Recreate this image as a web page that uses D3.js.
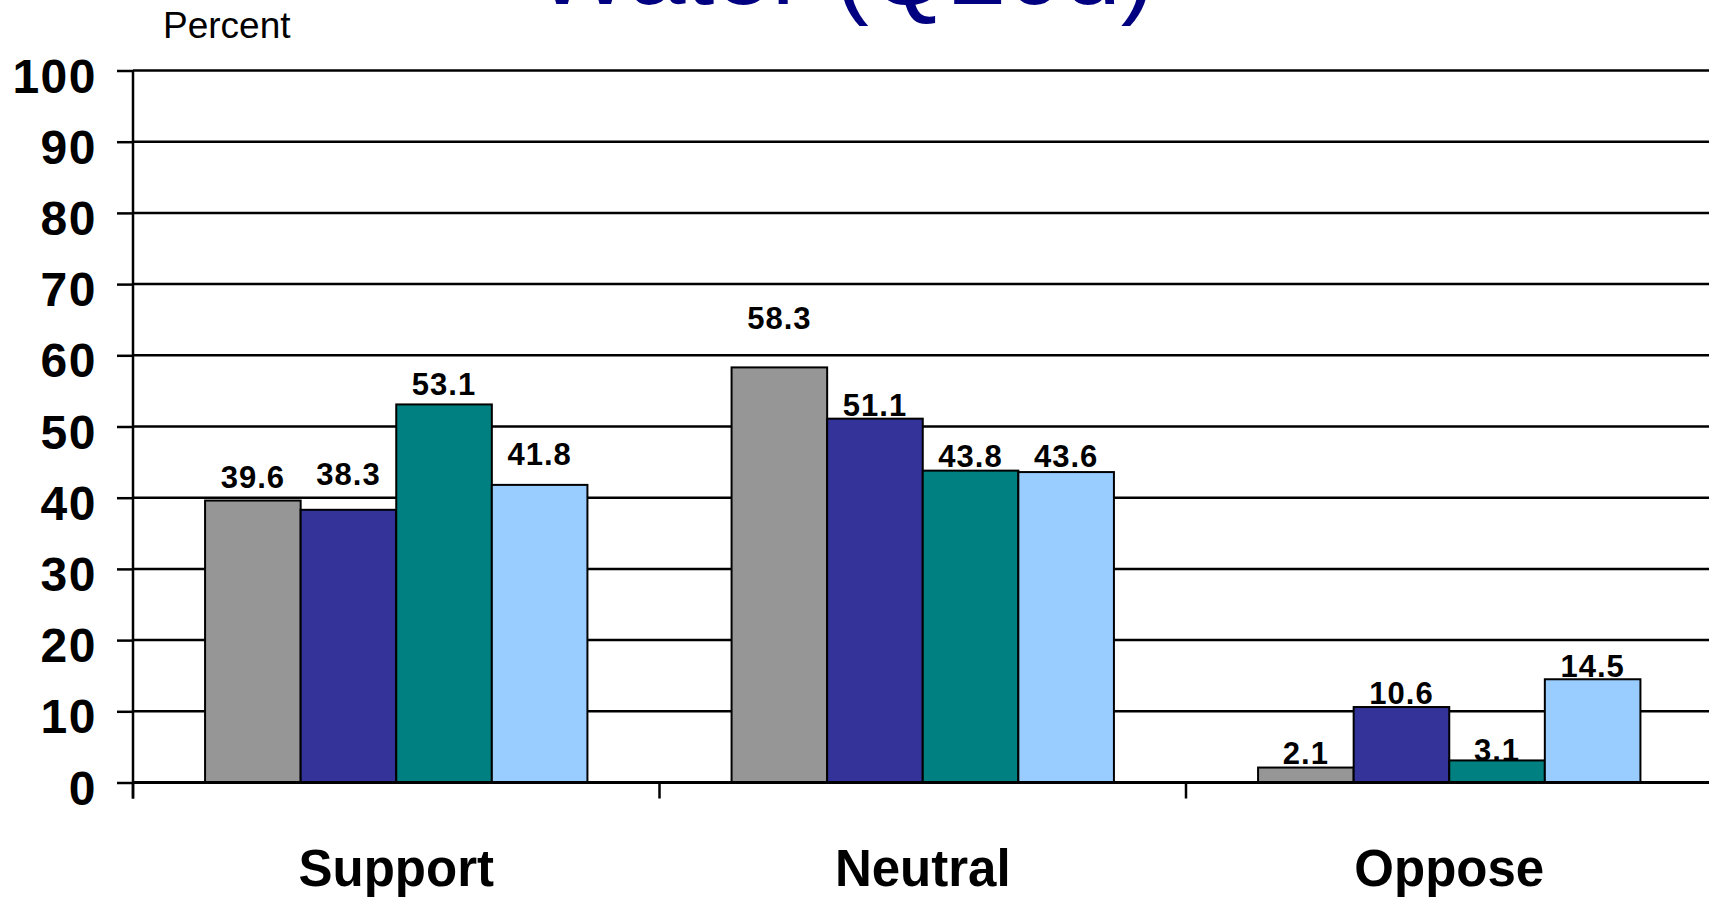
<!DOCTYPE html>
<html>
<head>
<meta charset="utf-8">
<script src="https://cdn.jsdelivr.net/npm/d3@7/dist/d3.min.js"></script>
<style>
  html, body { margin: 0; padding: 0; background: #fff; }
  svg { display: block; font-family: "Liberation Sans", Arial, sans-serif; }
</style>
</head>
<body>
<svg id="chart" width="1709" height="898"></svg>
<script>
// ---- data ----
const categories = ["Support", "Neutral", "Oppose"];
const seriesNames = ["Group 1", "Group 2", "Group 3", "Group 4"];
const group1 = [39.6, 58.3, 2.1];
const group2 = [38.3, 51.1, 10.6];
const group3 = [53.1, 43.8, 3.1];
const group4 = [41.8, 43.6, 14.5];
const yTicks = [0, 10, 20, 30, 40, 50, 60, 70, 80, 90, 100];
const titleText = "Water (Q20d)";
const yAxisTitle = "Percent";

// ---- layout / style (not data) ----
const colors = ["#969696", "#333399", "#008080", "#99CCFF"];
// label lift above bar top, in value units, per series per category (as placed in the original)
const labelLift = [
  [1.8, 5.4, 0.5],
  [3.5, 0.4, 0.4],
  [1.3, 0.5, -0.1],
  [2.8, 0.7, 0.3]
];

const seriesValues = [group1, group2, group3, group4];
const svg = d3.select("#chart");

const plotLeft = 133, plotTop = 70.5, plotBottom = 782.5;
const catStep = 526.5;
const x0 = d3.scaleBand().domain(categories).range([plotLeft, plotLeft + catStep * categories.length]).padding(0);
const x1 = d3.scaleBand().domain(seriesNames).range([0, x0.bandwidth()]).paddingInner(0).paddingOuter(0.754);
const y = d3.scaleLinear().domain([0, 100]).range([plotBottom, plotTop]);

// title (cut off at the top like the original)
svg.append("text")
  .attr("x", 845).attr("y", 4)
  .attr("text-anchor", "middle")
  .attr("font-size", 103)
  .attr("fill", "#000080")
  .text(titleText);

// y axis title
svg.append("text")
  .attr("x", 163).attr("y", 38)
  .attr("font-size", 37)
  .attr("fill", "#000")
  .text(yAxisTitle);

// gridlines
svg.append("g")
  .selectAll("line")
  .data(yTicks.filter(d => d > 0))
  .join("line")
  .attr("x1", plotLeft).attr("x2", 1709)
  .attr("y1", d => y(d)).attr("y2", d => y(d))
  .attr("stroke", "#000").attr("stroke-width", 2.5);

// y axis
const yAxisG = svg.append("g")
  .attr("transform", `translate(${plotLeft},0)`)
  .call(d3.axisLeft(y).tickValues(yTicks).tickSize(16).tickPadding(20).tickFormat(d3.format("d")));
yAxisG.select(".domain").remove();
yAxisG.selectAll(".tick line").attr("stroke", "#000").attr("stroke-width", 2.5);
yAxisG.selectAll(".tick text")
  .attr("font-family", "Liberation Sans, Arial, sans-serif")
  .attr("font-size", 48).attr("font-weight", "bold").attr("fill", "#000")
  .attr("letter-spacing", 1.5)
  .attr("dy", "0.45em");

// bars
const barG = svg.append("g");
categories.forEach((cat, ci) => {
  seriesNames.forEach((s, si) => {
    const v = seriesValues[si][ci];
    barG.append("rect")
      .attr("x", x0(cat) + x1(s))
      .attr("y", y(v))
      .attr("width", x1.bandwidth())
      .attr("height", y(0) - y(v))
      .attr("fill", colors[si])
      .attr("stroke", "#000").attr("stroke-width", 2);
  });
});

// value labels
const labG = svg.append("g");
categories.forEach((cat, ci) => {
  seriesNames.forEach((s, si) => {
    const v = seriesValues[si][ci];
    labG.append("text")
      .attr("x", x0(cat) + x1(s) + x1.bandwidth() / 2)
      .attr("y", y(v + labelLift[si][ci]))
      .attr("text-anchor", "middle")
      .attr("font-size", 31).attr("font-weight", "bold").attr("fill", "#000")
      .attr("letter-spacing", 1)
      .text(d3.format(".1f")(v));
  });
});

// x axis line
svg.append("line")
  .attr("x1", plotLeft).attr("x2", 1709)
  .attr("y1", y(0)).attr("y2", y(0))
  .attr("stroke", "#000").attr("stroke-width", 3);
// y axis line
svg.append("line")
  .attr("x1", plotLeft).attr("x2", plotLeft)
  .attr("y1", y(100)).attr("y2", y(0) + 16)
  .attr("stroke", "#000").attr("stroke-width", 2.5);
// category boundary ticks
svg.append("g")
  .selectAll("line")
  .data(categories)
  .join("line")
  .attr("x1", d => x0(d)).attr("x2", d => x0(d))
  .attr("y1", y(0)).attr("y2", y(0) + 16)
  .attr("stroke", "#000").attr("stroke-width", 2.5);

// category labels
svg.append("g")
  .selectAll("text")
  .data(categories)
  .join("text")
  .attr("x", d => x0(d) + x0.bandwidth() / 2)
  .attr("y", 886)
  .attr("text-anchor", "middle")
  .attr("font-size", 51).attr("font-weight", "bold").attr("fill", "#000")
  .text(d => d);
</script>
</body>
</html>
